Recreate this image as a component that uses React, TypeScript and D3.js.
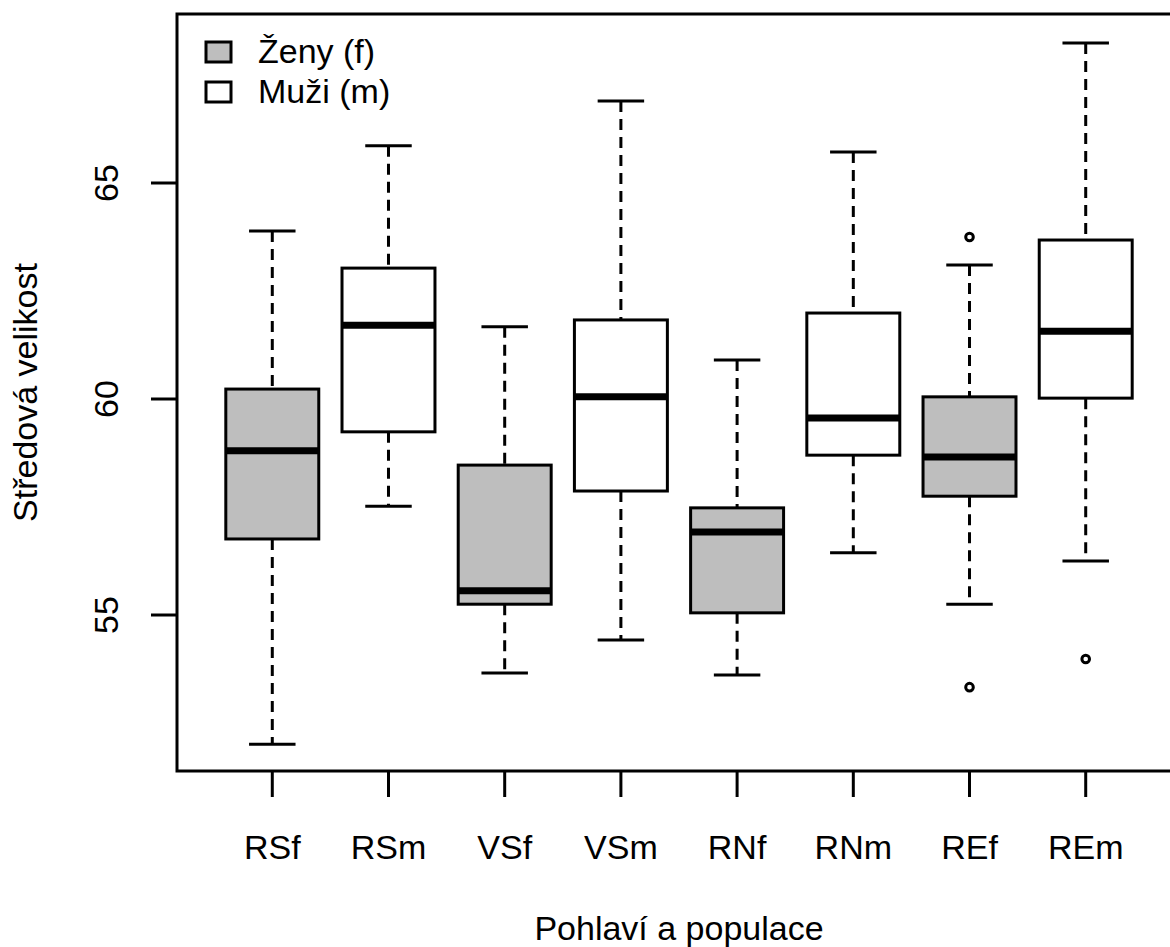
import { scaleLinear } from 'd3'

const categories = ['RSf', 'RSm', 'VSf', 'VSm', 'RNf', 'RNm', 'REf', 'REm']
const lowerWhisker = [52.01, 57.52, 53.66, 54.42, 53.61, 56.44, 55.25, 56.25]
const q1 = [56.76, 59.24, 55.25, 57.87, 55.05, 58.7, 57.75, 60.02]
const median = [58.8, 61.71, 55.56, 60.05, 56.92, 59.56, 58.66, 61.57]
const q3 = [60.23, 63.03, 58.47, 61.83, 57.48, 61.99, 60.05, 63.68]
const upperWhisker = [63.89, 65.86, 61.67, 66.9, 60.9, 65.72, 63.1, 68.24]
const outliers: [string, number][] = [
  ['REf', 63.75],
  ['REf', 53.33],
  ['REm', 53.98],
]
const yTicks = [55, 60, 65]
const legendItems = ['Ženy (f)', 'Muži (m)']
const legendFills = ['#bebebe', '#ffffff']

const width = 1170
const height = 947
const plot = { left: 177, right: 1181, top: 14, bottom: 771 }
const font = 'Liberation Sans, Arial, sans-serif'
const fontSize = 34

const x = scaleLinear().domain([0.18, 8.82]).range([plot.left, plot.right])
const y = scaleLinear().domain([51.389, 68.912]).range([plot.bottom, plot.top])

const App = () => {
  const step = x(2) - x(1)
  const boxW = step * 0.8
  const capW = boxW * 0.5

  return (
    <svg
      width={width}
      height={height}
      viewBox={`0 0 ${width} ${height}`}
      style={{ position: 'absolute', left: 0, top: 0, background: '#fff' }}
      fontFamily={font}
    >
      {categories.map((cat, i) => {
        const cx = x(i + 1)
        const fill = cat.endsWith('f') ? legendFills[0] : legendFills[1]
        return (
          <g key={cat}>
            <line x1={cx} x2={cx} y1={y(upperWhisker[i])} y2={y(q3[i])} stroke="#000" strokeWidth={3} strokeDasharray="11 7" />
            <line x1={cx} x2={cx} y1={y(q1[i])} y2={y(lowerWhisker[i])} stroke="#000" strokeWidth={3} strokeDasharray="11 7" />
            <line x1={cx - capW / 2} x2={cx + capW / 2} y1={y(upperWhisker[i])} y2={y(upperWhisker[i])} stroke="#000" strokeWidth={3} />
            <line x1={cx - capW / 2} x2={cx + capW / 2} y1={y(lowerWhisker[i])} y2={y(lowerWhisker[i])} stroke="#000" strokeWidth={3} />
            <rect
              x={cx - boxW / 2}
              y={y(q3[i])}
              width={boxW}
              height={y(q1[i]) - y(q3[i])}
              fill={fill}
              stroke="#000"
              strokeWidth={3}
            />
            <line x1={cx - boxW / 2} x2={cx + boxW / 2} y1={y(median[i])} y2={y(median[i])} stroke="#000" strokeWidth={7} />
          </g>
        )
      })}

      {outliers.map(([cat, v], i) => (
        <circle key={i} cx={x(categories.indexOf(cat) + 1)} cy={y(v)} r={3.8} fill="none" stroke="#000" strokeWidth={3} />
      ))}

      {/* frame */}
      <rect
        x={plot.left}
        y={plot.top}
        width={plot.right - plot.left}
        height={plot.bottom - plot.top}
        fill="none"
        stroke="#000"
        strokeWidth={3}
      />

      {/* y axis */}
      {yTicks.map((t) => (
        <g key={t}>
          <line x1={plot.left - 26} x2={plot.left} y1={y(t)} y2={y(t)} stroke="#000" strokeWidth={3} />
          <text
            transform={`translate(${plot.left - 59}, ${y(t)}) rotate(-90)`}
            textAnchor="middle"
            fontSize={fontSize}
          >
            {t}
          </text>
        </g>
      ))}

      {/* x axis */}
      {categories.map((cat, i) => (
        <g key={cat}>
          <line x1={x(i + 1)} x2={x(i + 1)} y1={plot.bottom} y2={plot.bottom + 26} stroke="#000" strokeWidth={3} />
          <text x={x(i + 1)} y={859} textAnchor="middle" fontSize={fontSize}>
            {cat}
          </text>
        </g>
      ))}

      <text x={(plot.left + plot.right) / 2} y={940} textAnchor="middle" fontSize={fontSize}>
        Pohlaví a populace
      </text>
      <text transform={`translate(37, ${(plot.top + plot.bottom) / 2}) rotate(-90)`} textAnchor="middle" fontSize={fontSize}>
        Středová velikost
      </text>

      {/* legend */}
      {legendItems.map((label, i) => (
        <g key={label} transform={`translate(0, ${i * 40})`}>
          <rect x={206} y={42} width={25} height={20} fill={legendFills[i]} stroke="#000" strokeWidth={3} />
          <text x={258} y={63} fontSize={fontSize}>
            {label}
          </text>
        </g>
      ))}
    </svg>
  )
}

export default App
